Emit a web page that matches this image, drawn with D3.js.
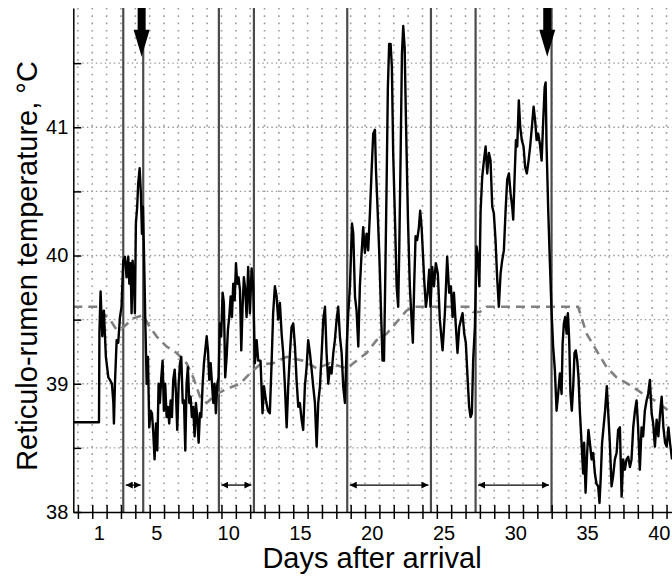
<!DOCTYPE html>
<html><head><meta charset="utf-8">
<script src="https://cdn.jsdelivr.net/npm/d3@7"></script>
<style>
body{margin:0;background:#fff}
svg{display:block}
text{font-family:"Liberation Sans",Arial,Helvetica,sans-serif}
</style>
</head><body>
<svg id="chart" width="672" height="576"></svg>
<script>
// ---- data ----
const tempDay = [-1.32,0.47,0.50,0.58,0.70,0.81,0.95,1.12,1.23,1.37,1.47,1.51,1.58,1.70,1.81,1.93,2.04,2.16,2.28,2.39,2.51,2.58,2.67,2.74,2.81,2.90,2.97,3.04,3.13,3.20,3.30,3.39,3.46,3.53,3.60,3.69,3.79,3.88,3.97,4.07,4.16,4.25,4.34,4.44,4.53,4.62,4.71,4.81,4.90,4.99,5.08,5.18,5.27,5.36,5.46,5.55,5.64,5.74,5.83,5.92,6.02,6.11,6.20,6.30,6.39,6.48,6.57,6.66,6.76,6.85,6.94,7.03,7.13,7.22,7.31,7.41,7.50,7.59,7.69,7.78,7.87,7.97,8.06,8.15,8.25,8.34,8.43,8.52,8.61,8.71,8.80,8.89,8.98,9.08,9.17,9.26,9.36,9.45,9.54,9.64,9.73,9.82,9.92,10.01,10.10,10.19,10.29,10.38,10.47,10.56,10.66,10.75,10.86,10.98,11.10,11.21,11.33,11.45,11.56,11.72,11.86,11.96,12.10,12.24,12.37,12.49,12.60,12.72,12.84,12.95,13.07,13.19,13.30,13.42,13.54,13.65,13.77,13.88,14.00,14.12,14.23,14.35,14.46,14.58,14.69,14.81,14.93,15.04,15.16,15.28,15.39,15.51,15.63,15.74,15.86,15.98,16.09,16.21,16.32,16.44,16.55,16.67,16.79,16.90,17.02,17.13,17.25,17.37,17.48,17.60,17.72,17.83,17.95,18.09,18.18,18.30,18.41,18.53,18.64,18.76,18.87,18.99,19.11,19.22,19.34,19.46,19.57,19.69,19.76,19.85,19.99,20.13,20.22,20.32,20.40,20.50,20.59,20.68,20.78,20.87,20.96,21.10,21.20,21.31,21.38,21.48,21.57,21.66,21.76,21.85,21.99,22.12,22.24,22.33,22.42,22.52,22.63,22.75,22.84,22.94,23.03,23.12,23.24,23.36,23.47,23.56,23.68,23.80,23.93,24.07,24.21,24.40,24.56,24.72,24.86,24.98,25.10,25.19,25.33,25.44,25.56,25.68,25.79,25.91,26.02,26.14,26.25,26.35,26.44,26.53,26.65,26.77,26.89,26.96,27.05,27.16,27.28,27.40,27.51,27.63,27.74,27.86,27.97,28.09,28.20,28.32,28.44,28.55,28.67,28.79,28.90,29.02,29.14,29.25,29.32,29.41,29.51,29.60,29.71,29.81,29.92,30.04,30.15,30.27,30.39,30.50,30.62,30.74,30.85,30.95,31.06,31.18,31.30,31.41,31.51,31.58,31.64,31.76,31.87,31.99,32.10,32.22,32.34,32.45,32.57,32.69,32.76,32.85,32.94,33.04,33.13,33.22,33.31,33.40,33.50,33.59,33.68,33.78,33.87,33.96,34.08,34.19,34.26,34.36,34.47,34.56,34.66,34.78,34.89,35.01,35.12,35.24,35.33,35.42,35.51,35.61,35.72,35.84,35.93,36.05,36.17,36.28,36.40,36.52,36.63,36.75,36.87,36.98,37.10,37.21,37.33,37.45,37.56,37.68,37.80,37.91,38.02,38.14,38.26,38.37,38.49,38.61,38.72,38.84,38.96,39.07,39.19,39.31,39.43,39.55,39.66,39.78,39.90,40.01,40.13,40.24,40.38];
const tempC = [38.70,38.70,39.40,39.72,39.37,39.57,39.21,39.05,39.03,39.00,38.85,38.69,39.00,39.34,39.32,39.52,39.60,39.96,39.99,39.83,39.99,39.78,39.94,39.55,39.96,39.83,39.55,40.25,40.38,40.56,40.68,40.48,40.17,40.38,40.04,39.52,39.00,39.21,38.66,38.79,38.77,38.62,38.41,38.69,38.48,39.00,38.85,39.05,39.18,38.79,39.00,38.74,38.82,38.69,38.87,38.74,39.03,39.11,38.93,38.64,39.00,39.16,39.21,38.85,38.87,38.48,39.00,39.13,38.85,38.90,38.74,38.82,38.59,38.85,38.74,38.54,38.77,38.74,39.00,39.16,39.26,39.37,39.26,39.03,39.16,39.00,38.85,39.00,38.77,39.00,39.05,39.47,39.37,39.71,39.63,39.05,39.21,39.42,39.52,39.68,39.52,39.78,39.65,39.94,39.78,39.83,39.73,39.26,39.60,39.83,39.73,39.52,39.91,39.55,39.90,39.76,39.16,39.34,39.18,39.18,38.77,38.98,38.87,38.79,38.77,39.16,39.55,39.76,39.68,39.50,39.63,39.39,39.24,38.98,38.66,38.98,39.24,39.44,39.47,39.29,39.03,38.82,38.85,38.72,38.64,38.98,39.13,39.34,39.24,39.11,38.98,38.85,38.51,38.85,38.98,39.24,39.50,39.60,39.24,39.00,39.13,39.08,39.24,39.34,39.50,39.60,39.37,39.24,38.98,38.85,39.29,39.55,39.76,40.25,40.17,39.68,39.57,39.29,39.76,40.02,40.22,40.02,40.17,40.04,40.33,40.67,40.95,40.98,40.67,40.43,40.02,39.50,39.18,39.18,39.76,40.54,41.31,41.65,41.65,41.47,40.80,40.22,39.76,39.60,40.02,40.80,41.57,41.79,41.62,41.05,40.28,39.76,39.50,39.32,39.76,40.15,40.12,40.22,40.35,40.22,40.02,39.81,39.60,39.71,39.89,39.60,39.91,39.76,39.94,39.86,39.50,39.26,39.55,39.99,39.71,39.76,39.52,39.71,39.44,39.24,39.44,39.50,39.55,39.39,39.32,39.05,38.82,38.74,38.77,39.18,39.44,40.07,39.96,39.76,40.35,40.61,40.74,40.85,40.64,40.80,40.74,40.38,40.33,40.12,39.83,39.60,39.86,39.96,40.04,40.35,40.59,40.64,40.48,40.38,40.28,40.59,40.90,40.85,41.21,41.00,40.90,40.85,40.69,40.64,40.74,40.85,41.00,41.16,41.05,40.90,40.95,40.87,40.74,41.05,41.31,41.35,40.87,40.35,39.96,39.57,39.29,39.11,38.79,38.92,39.08,38.92,39.31,39.47,39.52,39.39,39.55,39.34,38.92,38.79,38.98,39.24,39.26,39.18,39.05,38.79,38.54,38.30,38.54,38.15,38.46,38.64,38.54,38.41,38.46,38.30,38.22,38.20,38.07,38.28,38.54,38.66,38.79,38.98,38.79,38.54,38.20,38.28,38.41,38.46,38.64,38.66,38.12,38.41,38.33,38.41,38.43,38.35,38.41,38.66,38.79,38.87,38.66,38.33,38.66,38.59,38.79,38.87,38.92,39.03,38.77,38.69,38.51,38.72,38.59,38.77,38.90,38.66,38.54,38.51,38.66,38.54,38.41];

const baseDay = [-1.32,0.45,0.54,1.24,1.70,2.16,2.86,3.55,4.02,4.48,5.18,5.88,6.57,7.03,7.50,7.97,8.66,9.36,10.29,10.98,11.68,12.60,13.54,14.69,15.63,16.55,17.72,18.41,19.11,19.80,20.50,21.20,21.89,22.35,26.30,26.53,27.00,27.47,33.84,34.43,35.12,35.82,36.52,37.45,38.37,39.31,40.38];
const baseC = [39.60,39.60,39.57,39.50,39.42,39.44,39.51,39.535,39.44,39.37,39.29,39.24,39.16,39.05,38.90,38.85,38.92,38.96,39.00,39.08,39.15,39.16,39.21,39.18,39.12,39.16,39.12,39.18,39.24,39.34,39.39,39.48,39.57,39.60,39.60,39.56,39.56,39.60,39.60,39.39,39.26,39.13,39.05,38.99,38.92,38.86,38.77];

const eventDays = [2.16, 3.55, 8.82, 11.26, 17.76, 23.59, 26.70, 31.99];
const periodStart = [2.16, 8.82, 17.76, 26.70];
const periodEnd = [3.55, 11.26, 23.59, 31.99];
const arrowDays = [3.44, 31.69];
const xTickLabels = [1, 5, 10, 15, 20, 25, 30, 35, 40];
const yTicks = [38, 38.5, 39, 39.5, 40, 40.5, 41, 41.5];
const yTickLabels = [38, 39, 40, 41];
const xTitle = "Days after arrival";
const yTitle = "Reticulo-rumen temperature, \u00B0C";

// ---- layout ----
const W = 672, H = 576;
const L = 73.3, R = 672, T = 8, B = 512;
const svg = d3.select("#chart");
const x = d3.scaleLinear().domain([-1.32, 40.38]).range([L, R]);
const y = d3.scaleLinear().domain([38, 41.93]).range([B, T]);

const defs = svg.append("defs");
defs.append("clipPath").attr("id","plot").append("rect")
  .attr("x", L).attr("y", T).attr("width", R - L).attr("height", B - T);
defs.append("marker").attr("id","ah").attr("viewBox","0 0 10 10")
  .attr("refX",10).attr("refY",5).attr("markerWidth",7).attr("markerHeight",7)
  .attr("markerUnits","userSpaceOnUse").attr("orient","auto-start-reverse")
  .append("path").attr("d","M0,0L10,5L0,10Z").attr("fill","#000");

const g = svg.append("g");

// dotted grid
const dayGrid = d3.range(-1, 41);
g.append("g").selectAll("line").data(dayGrid).join("line")
  .attr("x1", d => x(d)).attr("x2", d => x(d))
  .attr("y1", T).attr("y2", B)
  .attr("stroke", "#9a9a9a").attr("stroke-width", 1.6)
  .attr("stroke-dasharray", "1.6,5.7");
g.append("g").selectAll("line").data(yTicks.filter(d => d > 38)).join("line")
  .attr("x1", L).attr("x2", R)
  .attr("y1", d => y(d)).attr("y2", d => y(d))
  .attr("stroke", "#9a9a9a").attr("stroke-width", 1.4)
  .attr("stroke-dasharray", "1.5,3");

// event lines
g.append("g").selectAll("line").data(eventDays).join("line")
  .attr("x1", d => x(d)).attr("x2", d => x(d))
  .attr("y1", T).attr("y2", B)
  .attr("stroke", "#4a4a4a").attr("stroke-width", 2.2);

// baseline (dashed)
const line = d3.line().x(d => x(d[0])).y(d => y(d[1]));
g.append("path").attr("clip-path","url(#plot)")
  .datum(baseDay.map((d, i) => [d, baseC[i]]))
  .attr("d", line).attr("fill","none")
  .attr("stroke","#808080").attr("stroke-width",2.6)
  .attr("stroke-dasharray","9,6");

// temperature
g.append("path").attr("clip-path","url(#plot)")
  .datum(tempDay.map((d, i) => [d, tempC[i]]))
  .attr("d", line).attr("fill","none")
  .attr("stroke","#000").attr("stroke-width",2.4)
  .attr("stroke-linejoin","round");

// period double arrows
const yArrow = y(38.21);
g.append("g").selectAll("line").data(periodStart).join("line")
  .attr("x1", d => x(d) + 2.5).attr("x2", (d, i) => x(periodEnd[i]) - 2.5)
  .attr("y1", yArrow).attr("y2", yArrow)
  .attr("stroke","#000").attr("stroke-width",1.3)
  .attr("marker-start","url(#ah)").attr("marker-end","url(#ah)");

// big down arrows
g.append("g").selectAll("path").data(arrowDays).join("path")
  .attr("d", d => {
    const cx = x(d), y0 = T, yh = y(41.76), yt = y(41.55);
    return `M${cx-4},${y0}L${cx+4},${y0}L${cx+4},${yh}L${cx+8},${yh}L${cx},${yt}L${cx-8},${yh}L${cx-4},${yh}Z`;
  })
  .attr("fill","#000");

// axes
const xAxis = d3.axisBottom(x).tickValues(dayGrid).tickSize(7).tickSizeOuter(0).tickFormat("");
const xa = g.append("g").attr("transform",`translate(0,${B})`).call(xAxis);
xa.selectAll(".tick line").attr("y1", -7).attr("y2", 7).attr("stroke","#000").attr("stroke-width",1.5);
xa.select(".domain").attr("stroke","#000").attr("stroke-width",1.5);

g.append("g").selectAll("text").data(xTickLabels).join("text")
  .attr("x", d => x(d - 0.5)).attr("y", 540)
  .attr("text-anchor","middle").attr("font-size",20).attr("fill","#000")
  .text(d => d);

const yAxis = d3.axisLeft(y).tickValues(yTicks).tickSize(-8).tickSizeOuter(0).tickPadding(5)
  .tickFormat(d => yTickLabels.includes(d) ? d : "");
const ya = g.append("g").attr("transform",`translate(${L},0)`).call(yAxis);
ya.selectAll(".tick line").attr("stroke","#000").attr("stroke-width",1.5);
ya.select(".domain").attr("stroke","#000").attr("stroke-width",1.5);
ya.selectAll(".tick text").attr("font-size",20).attr("fill","#000")
  .attr("font-family",'"Liberation Sans",Arial,sans-serif');

// titles
svg.append("text").attr("x", 372).attr("y", 568)
  .attr("text-anchor","middle").attr("font-size",29).attr("fill","#000").text(xTitle);
svg.append("text").attr("transform","translate(37,266) rotate(-90)")
  .attr("text-anchor","middle").attr("font-size",29).attr("fill","#000").text(yTitle);
</script>
</body></html>
